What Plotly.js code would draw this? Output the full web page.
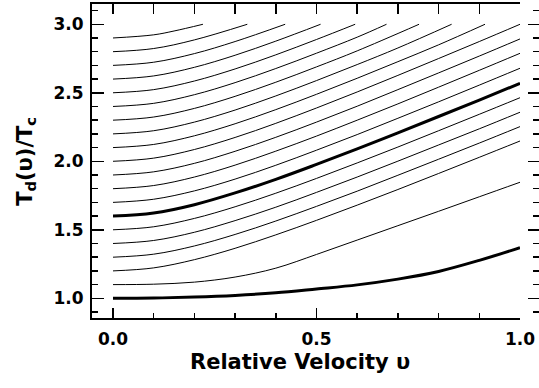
<!DOCTYPE html>
<html>
<head>
<meta charset="utf-8">
<script src="https://cdn.plot.ly/plotly-3.0.1.min.js"></script>
<style>html,body{margin:0;padding:0;background:#fff;}#chart{width:539px;height:388px;}</style>
</head>
<body>
<div id="chart"></div>
<script>
// Relative velocity grid
const vGrid = [0, 0.1, 0.2, 0.3, 0.4, 0.5, 0.6, 0.7, 0.8, 0.9, 1.0];

// Curves that reach v = 1 (values at vGrid)
const t10 = [1.000, 1.002, 1.009, 1.021, 1.040, 1.068, 1.098, 1.140, 1.196, 1.277, 1.369];
const t11 = [1.100, 1.103, 1.118, 1.155, 1.220, 1.320, 1.425, 1.530, 1.635, 1.741, 1.847];
const t12 = [1.200, 1.222, 1.282, 1.365, 1.463, 1.569, 1.680, 1.794, 1.911, 2.029, 2.148];
const t13 = [1.300, 1.322, 1.382, 1.466, 1.564, 1.671, 1.782, 1.898, 2.015, 2.133, 2.253];
const t14 = [1.400, 1.422, 1.482, 1.567, 1.665, 1.773, 1.885, 2.001, 2.119, 2.237, 2.358];
const t15 = [1.500, 1.522, 1.583, 1.668, 1.767, 1.875, 1.988, 2.104, 2.223, 2.343, 2.464];
const t16 = [1.600, 1.622, 1.683, 1.769, 1.868, 1.977, 2.090, 2.208, 2.327, 2.447, 2.569];
const t17 = [1.700, 1.723, 1.784, 1.870, 1.971, 2.081, 2.195, 2.314, 2.434, 2.556, 2.679];
const t18 = [1.800, 1.823, 1.885, 1.972, 2.074, 2.184, 2.300, 2.419, 2.541, 2.664, 2.788];
const t19 = [1.900, 1.923, 1.985, 2.073, 2.175, 2.286, 2.402, 2.523, 2.645, 2.768, 2.893];
const t20 = [2.000, 2.023, 2.086, 2.174, 2.277, 2.389, 2.506, 2.627, 2.750, 2.874, 3.000];

// Curves that stop at T = 3.0 (own velocity points)
const v21 = [0, 0.1, 0.2, 0.3, 0.4, 0.5, 0.6, 0.7, 0.8, 0.914];
const t21 = [2.100, 2.123, 2.186, 2.274, 2.377, 2.489, 2.606, 2.727, 2.850, 3.000];
const v22 = [0, 0.1, 0.2, 0.3, 0.4, 0.5, 0.6, 0.7, 0.832];
const t22 = [2.200, 2.223, 2.286, 2.374, 2.477, 2.589, 2.706, 2.827, 3.000];
const v23 = [0, 0.1, 0.2, 0.3, 0.4, 0.5, 0.6, 0.752];
const t23 = [2.300, 2.323, 2.386, 2.474, 2.577, 2.689, 2.806, 3.000];
const v24 = [0, 0.1, 0.2, 0.3, 0.4, 0.5, 0.6, 0.672];
const t24 = [2.400, 2.423, 2.486, 2.574, 2.677, 2.789, 2.906, 3.000];
const v25 = [0, 0.1, 0.2, 0.3, 0.4, 0.5, 0.595];
const t25 = [2.500, 2.523, 2.586, 2.674, 2.777, 2.889, 3.000];
const v26 = [0, 0.1, 0.2, 0.3, 0.4, 0.51];
const t26 = [2.600, 2.623, 2.686, 2.774, 2.877, 3.000];
const v27 = [0, 0.1, 0.2, 0.3, 0.423];
const t27 = [2.700, 2.723, 2.786, 2.874, 3.000];
const v28 = [0, 0.1, 0.2, 0.33];
const t28 = [2.800, 2.823, 2.886, 3.000];
const v29 = [0, 0.1, 0.15, 0.221];
const t29 = [2.900, 2.923, 2.951, 3.000];

const thickCurves = [t10, t16];

const series = [
  [vGrid, t10], [vGrid, t11], [vGrid, t12], [vGrid, t13], [vGrid, t14],
  [vGrid, t15], [vGrid, t16], [vGrid, t17], [vGrid, t18], [vGrid, t19],
  [vGrid, t20], [v21, t21], [v22, t22], [v23, t23], [v24, t24],
  [v25, t25], [v26, t26], [v27, t27], [v28, t28], [v29, t29]
];

const xTitle = 'Relative Velocity υ';
const yTitle = 'T<sub>d</sub>(υ)/T<sub>c</sub>';

const traces = series.map(([x, y]) => ({
  x: x, y: y, type: 'scatter', mode: 'lines',
  line: {color: '#000', width: thickCurves.includes(y) ? 3 : 1, shape: 'spline', smoothing: 1},
  hoverinfo: 'skip', showlegend: false
}));

// helper trace to activate the top and right tick axes
traces.push({x: [0.5], y: [2], xaxis: 'x2', yaxis: 'y2', type: 'scatter', mode: 'markers',
  marker: {opacity: 0}, hoverinfo: 'skip', showlegend: false});

const FONT = 'DejaVu Sans, Liberation Sans, Arial, sans-serif';
const xRange = [-0.0516, 1.0];
const yRange = [0.8562, 3.148];
const xDomain = [0, 428 / 447];

const layout = {
  width: 539, height: 388,
  margin: {l: 92, r: 0, t: 4, b: 70},
  paper_bgcolor: '#fff', plot_bgcolor: '#fff',
  showlegend: false,
  xaxis: {
    domain: xDomain, range: xRange, showgrid: false, zeroline: false,
    showline: true, linecolor: '#000', linewidth: 2, mirror: true,
    ticks: 'inside', ticklen: 10, tickwidth: 1.5, tickcolor: '#000',
    tick0: 0, dtick: 0.5, tickformat: '.1f',
    ticklabelstandoff: 5,
    minor: {ticks: 'inside', ticklen: 5, tickwidth: 1.5, tickcolor: '#000', dtick: 0.1, tick0: 0, showgrid: false},
    tickfont: {family: FONT, size: 17, color: '#000', weight: 'bold'}
  },
  yaxis: {
    range: yRange, showgrid: false, zeroline: false,
    showline: true, linecolor: '#000', linewidth: 2, mirror: false,
    ticks: 'inside', ticklen: 12, tickwidth: 1.5, tickcolor: '#000',
    tick0: 0, dtick: 0.5, tickformat: '.1f',
    ticklabelstandoff: 3,
    minor: {ticks: 'inside', ticklen: 6, tickwidth: 1.5, tickcolor: '#000', dtick: 0.1, tick0: 0, showgrid: false},
    tickfont: {family: FONT, size: 17, color: '#000', weight: 'bold'}
  },
  xaxis2: {
    overlaying: 'x', side: 'top', anchor: 'y', range: xRange,
    showgrid: false, zeroline: false, showline: false, showticklabels: false,
    ticks: 'inside', ticklen: 10, tickwidth: 1.5, tickcolor: '#000', tick0: 0, dtick: 0.1
  },
  yaxis2: {
    overlaying: 'y', side: 'right', anchor: 'free', position: 1, range: yRange,
    showgrid: false, zeroline: false, showline: false, showticklabels: false,
    ticks: 'inside', ticklen: 11, tickwidth: 1.5, tickcolor: '#000', tick0: 0, dtick: 0.5,
    minor: {ticks: 'inside', ticklen: 6, tickwidth: 1.5, tickcolor: '#000', dtick: 0.1, tick0: 0, showgrid: false}
  },
  annotations: [
    {text: xTitle, xref: 'x', yref: 'paper', x: 0.46, y: -0.14, xanchor: 'center', yanchor: 'middle',
     showarrow: false, font: {family: FONT, size: 21, color: '#000', weight: 'bold'}},
    {text: yTitle, xref: 'paper', yref: 'paper', x: -0.148, y: 0.5, xanchor: 'center', yanchor: 'middle',
     textangle: -90, showarrow: false, font: {family: FONT, size: 21, color: '#000', weight: 'bold'}}
  ]
};

Plotly.newPlot('chart', traces, layout, {staticPlot: true, displayModeBar: false});
</script>
</body>
</html>
